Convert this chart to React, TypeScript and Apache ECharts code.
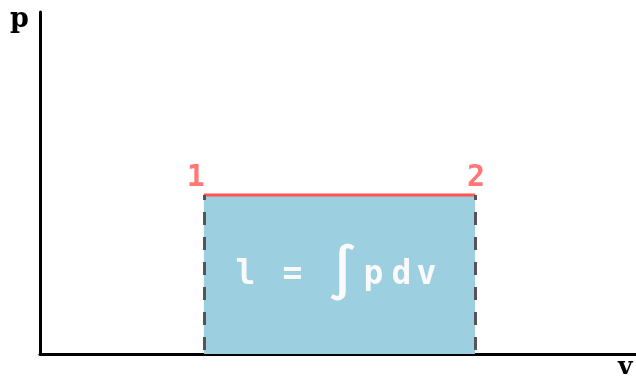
import React, { useEffect, useRef } from 'react';
import * as echarts from 'echarts';

// p-v diagram data
const stateLabels = ['1', '2'];
const volumes = [2.75, 7.3];
const pressures = [4.65, 4.65];
const axisNames = ['p', 'v'];
const formulaParts = ['l', '=', '∫', 'p', 'd', 'v'];
const xMax = 10;
const yMax = 10;

const MONO = '"DejaVu Sans Mono", monospace';
const RED = '#ff5555';
const BLUE = '#9ccfdf';

export default function App() {
  const ref = useRef<HTMLDivElement>(null);

  useEffect(() => {
    if (!ref.current) return;
    const chart = echarts.init(ref.current, null, { renderer: 'svg' });
    const points = volumes.map((v, i) => [v, pressures[i]]);
    const labelOffsets = [[-8, 0], [1, 0]];
    const partWidths = [26, 68, 32, 30, 26, 24];
    const rich: Record<string, any> = {};
    formulaParts.forEach((_, i) => {
      rich['f' + i] = {
        width: partWidths[i],
        align: 'center',
        fontFamily: MONO,
        fontWeight: 'bold',
        fontSize: i === 2 ? 52 : 33,
        color: '#fafafa',
      };
    });
    const formula = formulaParts.map((t, i) => `{f${i}|${t}}`).join('');

    chart.setOption({
      animation: false,
      grid: { left: 40, right: 0, top: 12, bottom: 25 },
      xAxis: {
        type: 'value',
        min: 0,
        max: xMax,
        axisLine: { show: true, onZero: false, lineStyle: { color: '#000', width: 3 } },
        axisTick: { show: false },
        axisLabel: { show: false },
        splitLine: { show: false },
      },
      yAxis: {
        type: 'value',
        min: 0,
        max: yMax,
        axisLine: { show: true, onZero: false, lineStyle: { color: '#000', width: 3 } },
        axisTick: { show: false },
        axisLabel: { show: false },
        splitLine: { show: false },
      },
      graphic: [
        {
          type: 'text',
          left: 10,
          top: 4,
          style: { text: axisNames[0], font: `bold 27px "DejaVu Serif", serif`, fill: '#000' },
        },
        {
          type: 'text',
          left: 618,
          top: 353,
          style: { text: axisNames[1], font: `bold 25px "DejaVu Serif", serif`, fill: '#000' },
        },
      ],
      series: [
        {
          type: 'scatter',
          z: 1,
          symbol: 'circle',
          symbolSize: 1,
          itemStyle: { color: 'rgba(0,0,0,0)' },
          data: points.map((p, i) => ({
            value: p,
            label: {
              show: true,
              position: 'top',
              distance: 4,
              formatter: stateLabels[i],
              offset: labelOffsets[i],
              color: RED,
              fontFamily: MONO,
              fontWeight: 'bold',
              fontSize: 30,
            },
          })),
          markArea: {
            silent: true,
            itemStyle: { color: BLUE, opacity: 1 },
            label: {
              show: true,
              position: 'inside',
              formatter: formula,
              rich,
              offset: [-4, -2],
            },
            data: [[{ coord: [volumes[0], 0] }, { coord: [volumes[1], pressures[1]] }]],
          },
          markLine: {
            silent: true,
            symbol: 'none',
            label: { show: false },
            lineStyle: { color: '#555555', width: 3, type: [13, 12], dashOffset: 21 },
            data: volumes.map((v, i) => [{ coord: [v, 0] }, { coord: [v, pressures[i]] }]),
          },
        },
        {
          type: 'line',
          z: 3,
          symbol: 'none',
          lineStyle: { color: RED, width: 3 },
          data: points,
        },
      ],
    });
    return () => chart.dispose();
  }, []);

  return (
    <div
      ref={ref}
      style={{ position: 'fixed', left: 0, top: 0, width: 636, height: 379 }}
    />
  );
}
